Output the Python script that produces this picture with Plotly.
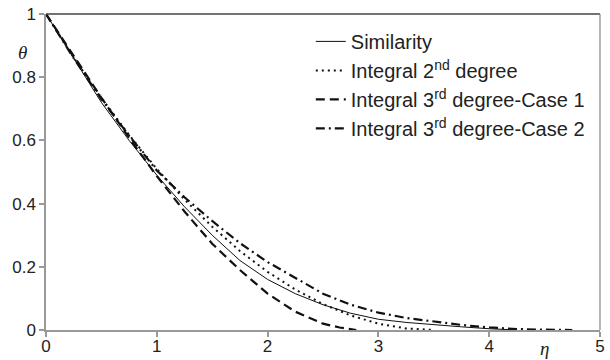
import plotly.graph_objects as go

# Similarity solution
eta_sim = [0, 0.25, 0.5, 0.75, 1.0, 1.25, 1.5, 1.75, 2.0, 2.25, 2.5, 2.75, 3.0, 3.25, 3.5, 3.75, 4.0, 4.25]
theta_sim = [1.0, 0.86, 0.72, 0.60, 0.49, 0.39, 0.30, 0.22, 0.16, 0.115, 0.08, 0.053, 0.034, 0.024, 0.016, 0.010, 0.004, 0.0]

# Integral 2nd degree
eta_int2 = [0, 0.25, 0.5, 0.75, 1.0, 1.25, 1.5, 1.75, 2.0, 2.25, 2.5, 2.75, 3.0, 3.25, 3.5]
theta_int2 = [1.0, 0.862, 0.735, 0.617, 0.51, 0.413, 0.327, 0.25, 0.184, 0.128, 0.082, 0.046, 0.02, 0.005, 0.0]

# Integral 3rd degree - Case 1
eta_int3a = [0, 0.25, 0.5, 0.75, 1.0, 1.25, 1.5, 1.75, 2.0, 2.25, 2.5, 2.65, 2.8]
theta_int3a = [1.0, 0.866, 0.735, 0.608, 0.487, 0.375, 0.273, 0.19, 0.115, 0.058, 0.02, 0.008, 0.0]

# Integral 3rd degree - Case 2
eta_int3b = [0, 0.25, 0.5, 0.75, 1.0, 1.25, 1.5, 1.75, 2.0, 2.25, 2.5, 2.75, 3.0, 3.25, 3.5, 3.75, 4.0, 4.25, 4.5, 4.75]
theta_int3b = [1.0, 0.86, 0.73, 0.615, 0.505, 0.42, 0.345, 0.275, 0.215, 0.165, 0.115, 0.08, 0.055, 0.038, 0.026, 0.016, 0.008, 0.003, 0.001, 0.0]

x_ticks = [0, 1, 2, 3, 4, 5]
x_ticktext = ["0", "1", "2", "3", "4", "5"]
y_ticks = [0, 0.2, 0.4, 0.6, 0.8, 1.0]
y_ticktext = ["0", "0.2", "0.4", "0.6", "0.8", "1"]

names = ["Similarity", "Integral 2<sup>nd</sup> degree",
         "Integral 3<sup>rd</sup> degree-Case 1", "Integral 3<sup>rd</sup> degree-Case 2"]

fig = go.Figure()
series = [
    (eta_sim, theta_sim, dict(color="#111", width=1, dash="solid")),
    (eta_int2, theta_int2, dict(color="#111", width=2, dash="2px,4px")),
    (eta_int3a, theta_int3a, dict(color="#111", width=2.2, dash="9px,5px")),
    (eta_int3b, theta_int3b, dict(color="#111", width=2.2, dash="9px,4px,2px,4px")),
]
for i, (x, y, ln) in enumerate(series):
    fig.add_trace(go.Scatter(x=x, y=y, mode="lines", line=ln, name=names[i],
                             legendgroup=f"g{i}"))

axis_font = dict(family="Liberation Sans, Arial, Helvetica, sans-serif", size=17, color="#222")
fig.update_layout(
    width=610, height=360,
    margin=dict(l=46, r=10, t=14, b=30, autoexpand=False),
    paper_bgcolor="white", plot_bgcolor="white",
    font=axis_font,
    showlegend=True,
    legend=dict(x=0.478, y=0.975, xanchor="left", yanchor="top",
                font=dict(family="Liberation Sans, Arial, Helvetica, sans-serif", size=20, color="#222"),
                bgcolor="rgba(0,0,0,0)", tracegroupgap=0),
    xaxis=dict(range=[0, 5], tickvals=x_ticks, ticktext=x_ticktext, showgrid=False, zeroline=False,
               showline=True, linecolor="#999", linewidth=1.5, ticks="outside", ticklen=5,
               tickcolor="#999", tickwidth=1.5, tickfont=axis_font, automargin=False,
               ticklabelstandoff=-5),
    yaxis=dict(range=[0, 1], tickvals=y_ticks, ticktext=y_ticktext, showgrid=False, zeroline=False,
               showline=True, linecolor="#999", linewidth=1.5, ticks="outside", ticklen=5,
               tickcolor="#999", tickwidth=1.5, tickfont=axis_font, automargin=False),
    shapes=[
        dict(type="line", xref="paper", yref="paper", x0=0, x1=1, y0=1, y1=1,
             line=dict(color="#444", width=1.5)),
        dict(type="line", xref="paper", yref="paper", x0=1, x1=1, y0=0, y1=1,
             line=dict(color="#888", width=1.2)),
    ],
    annotations=[
        dict(text="<i>θ</i>", xref="paper", yref="paper", x=-0.043, y=0.877, showarrow=False,
             xanchor="center", yanchor="middle",
             font=dict(family="Liberation Serif, DejaVu Serif, serif", size=19, color="#222")),
        dict(text="<i>η</i>", xref="paper", yref="paper", x=0.90, y=-0.058, showarrow=False,
             xanchor="center", yanchor="middle",
             font=dict(family="Liberation Serif, DejaVu Serif, serif", size=19, color="#222")),
    ],
)

fig.write_html("out.html", config={"displayModeBar": False},
               post_script="document.body.style.margin='0';document.body.style.overflow='hidden';")
